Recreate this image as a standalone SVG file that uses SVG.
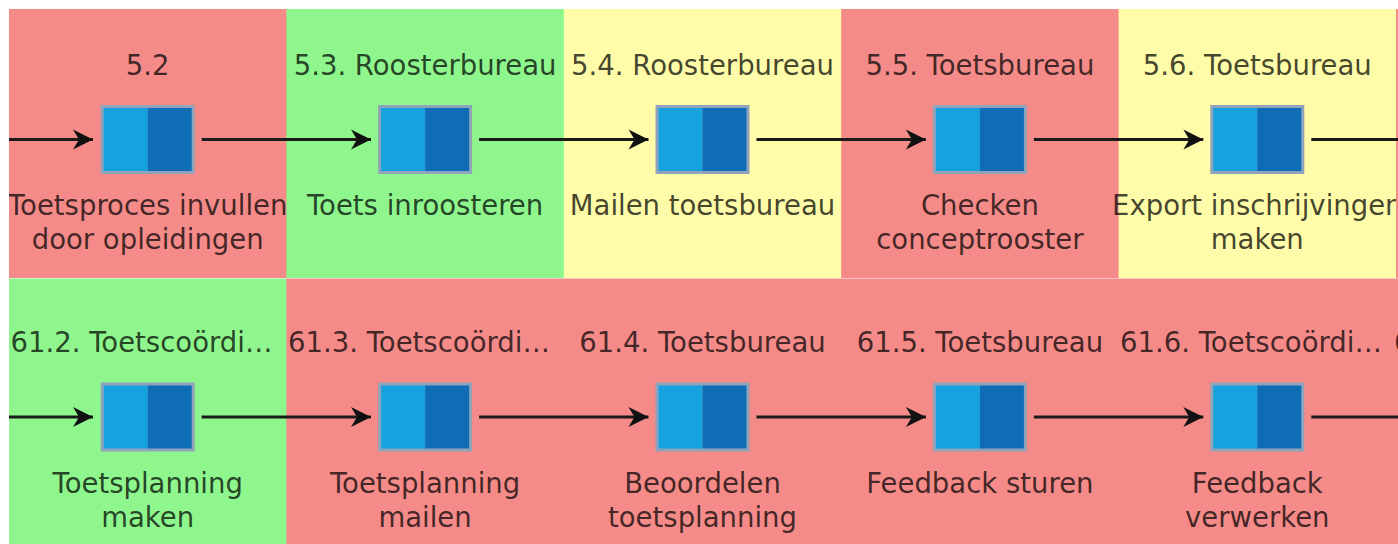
<svg xmlns="http://www.w3.org/2000/svg" width="1398" height="544" viewBox="0 0 1398 544">
<defs>
<style>
.red{fill:#f58b89}.green{fill:#8ef68c}.yellow{fill:#fefca8}
.hd,.lb{font-family:"DejaVu Sans",Verdana,sans-serif;font-size:27.5px;fill:#000;fill-opacity:0.74;text-anchor:middle}
.hl{text-anchor:start}
.bx{fill:#8fa3ba}.b1{fill:#15a2df}.b2{fill:#0f6db5}
.cn{stroke:#1a1a1a;stroke-width:3;fill:none}
</style>
<clipPath id="clip"><rect x="9" y="9" width="1389" height="535"/></clipPath>
<marker id="ah" markerUnits="userSpaceOnUse" markerWidth="24" markerHeight="24" viewBox="-22 -12 24 24" refX="0" refY="0" orient="auto">
<path d="M0,0 L-20,-10 L-14,0 L-20,10 Z" fill="#111"/>
</marker>
<g id="box"><rect class="bx" x="-47" y="-34.5" width="94" height="69"/><rect class="b1" x="-44" y="-31.5" width="44" height="63"/><rect class="b2" x="0" y="-31.5" width="44" height="63"/></g>
</defs>
<rect width="1398" height="544" fill="#fff"/>
<g clip-path="url(#clip)">
<g id="row1">
<rect class="red" x="9" y="9" width="278" height="269"/>
<g id="n5-2"><text class="hd" x="147.7" y="75">5.2</text><use href="#box" x="147.7" y="139.5"/><text class="lb" x="147.7" y="215">Toetsproces invullen</text><text class="lb" x="147.7" y="249">door opleidingen</text></g>
<rect class="green" x="286.4" y="9" width="278" height="269"/>
<g id="n5-3"><text class="hd" x="425.1" y="75">5.3. Roosterbureau</text><use href="#box" x="425.1" y="139.5"/><text class="lb" x="425.1" y="215">Toets inroosteren</text></g>
<rect class="yellow" x="563.8" y="9" width="278" height="269"/>
<g id="n5-4"><text class="hd" x="702.5" y="75">5.4. Roosterbureau</text><use href="#box" x="702.5" y="139.5"/><text class="lb" x="702.5" y="215">Mailen toetsbureau</text></g>
<rect class="red" x="841.2" y="9" width="278" height="269"/>
<g id="n5-5"><text class="hd" x="979.9" y="75">5.5. Toetsbureau</text><use href="#box" x="979.9" y="139.5"/><text class="lb" x="979.9" y="215">Checken</text><text class="lb" x="979.9" y="249">conceptrooster</text></g>
<rect class="yellow" x="1118.6" y="9" width="278" height="269"/>
<g id="n5-6"><text class="hd" x="1257.3" y="75">5.6. Toetsbureau</text><use href="#box" x="1257.3" y="139.5"/><text class="lb" x="1257.3" y="215">Export inschrijvingen</text><text class="lb" x="1257.3" y="249">maken</text></g>
<rect class="red" x="1396" y="9" width="10" height="269"/>
</g>
<g id="row2">
<rect class="green" x="9" y="278.5" width="278" height="270"/>
<g id="n61-2"><text class="hd hl" x="10.5" y="352">61.2. Toetscoördi…</text><use href="#box" x="147.7" y="417"/><text class="lb" x="147.7" y="492.5">Toetsplanning</text><text class="lb" x="147.7" y="526.5">maken</text></g>
<rect class="red" x="286.4" y="278.5" width="1120" height="270"/>
<g id="n61-3"><text class="hd hl" x="288" y="352">61.3. Toetscoördi…</text><use href="#box" x="425.1" y="417"/><text class="lb" x="425.1" y="492.5">Toetsplanning</text><text class="lb" x="425.1" y="526.5">mailen</text></g>
<g id="n61-4"><text class="hd" x="702.5" y="352">61.4. Toetsbureau</text><use href="#box" x="702.5" y="417"/><text class="lb" x="702.5" y="492.5">Beoordelen</text><text class="lb" x="702.5" y="526.5">toetsplanning</text></g>
<g id="n61-5"><text class="hd" x="979.9" y="352">61.5. Toetsbureau</text><use href="#box" x="979.9" y="417"/><text class="lb" x="979.9" y="492.5">Feedback sturen</text></g>
<g id="n61-6"><text class="hd hl" x="1120" y="352">61.6. Toetscoördi…</text><use href="#box" x="1257.3" y="417"/><text class="lb" x="1257.3" y="492.5">Feedback</text><text class="lb" x="1257.3" y="526.5">verwerken</text></g>
<g id="n61-7"><text class="hd hl" x="1394" y="352">6</text></g>
</g>
<g id="connectors">
<path class="cn" marker-end="url(#ah)" d="M9,139.5 H93"/>
<path class="cn" marker-end="url(#ah)" d="M201.7,139.5 H371"/>
<path class="cn" marker-end="url(#ah)" d="M479.1,139.5 H648.5"/>
<path class="cn" marker-end="url(#ah)" d="M756.5,139.5 H925.9"/>
<path class="cn" marker-end="url(#ah)" d="M1033.9,139.5 H1203.3"/>
<path class="cn" d="M1311.3,139.5 H1398"/>
<path class="cn" marker-end="url(#ah)" d="M9,417 H93"/>
<path class="cn" marker-end="url(#ah)" d="M201.7,417 H371"/>
<path class="cn" marker-end="url(#ah)" d="M479.1,417 H648.5"/>
<path class="cn" marker-end="url(#ah)" d="M756.5,417 H925.9"/>
<path class="cn" marker-end="url(#ah)" d="M1033.9,417 H1203.3"/>
<path class="cn" d="M1311.3,417 H1398"/>
</g>
</g>
</svg>
